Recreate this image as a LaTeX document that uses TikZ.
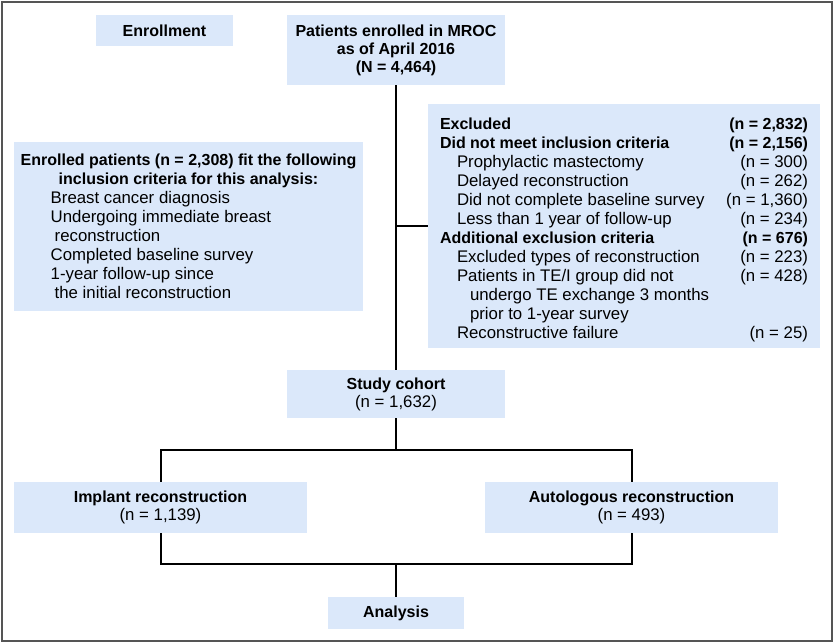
\documentclass[tikz,border=0pt]{standalone}
\usepackage{fontspec}
\setmainfont{Liberation Sans}
\usepackage{tikz}
\usetikzlibrary{calc}

\definecolor{boxblue}{RGB}{219,232,250}
\definecolor{framegray}{RGB}{85,85,85}
\newcommand{\hd}{\fontsize{12}{14.25}\selectfont\bfseries}
\tikzset{
  box/.style={fill=boxblue, inner sep=0pt, font=\fontsize{12.6}{13.5}\selectfont},
  listbox/.style={box, font=\fontsize{12.6}{14.25}\selectfont},
  link/.style={line width=1.5pt, black},
}

\begin{document}
\begin{tikzpicture}[x=0.75pt,y=0.75pt,yscale=-1,xscale=1]
  \useasboundingbox (0,0) rectangle (834,643) ;
  \draw  [framegray, line width=1.2pt] (2,2) rectangle (832,641) ;

  \node  [box, minimum width=102.75pt, minimum height=23.25pt] (enr) at (164.5,30.5) {\hd Enrollment} ;
  \node  [box, align=center, minimum width=163.5pt, minimum height=52.5pt] (pat) at (396,50) {\hd Patients enrolled in MROC\\ \hd as of April 2016\\ \hd (N = 4,464)} ;

  \node  [listbox, minimum width=261.75pt, minimum height=126.75pt] (inc) at (188.5,226.5) {%
    \begin{tabular}{@{\hspace{22.5pt}}l@{}}
      \multicolumn{1}{@{}c@{}}{\rule{0pt}{13pt}\hd Enrolled patients (n = 2,308) fit the following}\\
      \multicolumn{1}{@{}c@{}}{\hd inclusion criteria for this analysis:}\\
      Breast cancer diagnosis\\
      Undergoing immediate breast\\
      \hspace{3pt}reconstruction\\
      Completed baseline survey\\
      1-year follow-up since\\
      \hspace{3pt}the initial reconstruction
    \end{tabular}} ;

  \node  [listbox, minimum width=294pt, minimum height=183pt] (exc) at (624,226) {%
    \begin{tabular*}{276pt}{@{}l@{\extracolsep{\fill}}r@{}}
      \rule{0pt}{16pt}\hd Excluded & \hd (n = 2,832)\\
      \hd Did not meet inclusion criteria & \hd (n = 2,156)\\
      \hspace{12.75pt}Prophylactic mastectomy & (n = 300)\\
      \hspace{12.75pt}Delayed reconstruction & (n = 262)\\
      \hspace{12.75pt}Did not complete baseline survey & (n = 1,360)\\
      \hspace{12.75pt}Less than 1 year of follow-up & (n = 234)\\
      \hd Additional exclusion criteria & \hd (n = 676)\\
      \hspace{12.75pt}Excluded types of reconstruction & (n = 223)\\
      \hspace{12.75pt}Patients in TE/I group did not & (n = 428)\\
      \hspace{22.5pt}undergo TE exchange 3 months & \\
      \hspace{22.5pt}prior to 1-year survey & \\
      \hspace{12.75pt}Reconstructive failure & (n = 25)
    \end{tabular*}} ;

  \node  [box, align=center, minimum width=163.5pt, minimum height=36pt] (coh) at (396,394) {\hd Study cohort\\ (n = 1,632)} ;
  \node  [box, align=center, minimum width=219.75pt, minimum height=38.25pt] (imp) at (160.5,507.5) {\hd Implant reconstruction\\ (n = 1,139)} ;
  \node  [box, align=center, minimum width=219.75pt, minimum height=38.25pt] (aut) at (631.5,507.5) {\hd Autologous reconstruction\\ (n = 493)} ;
  \node  [box, minimum width=102pt, minimum height=24pt] (ana) at (396,613) {\hd Analysis} ;

  \coordinate (split) at (396,450) ;
  \coordinate (merge) at (396,564) ;

  \draw  [link] (pat.south) -- (coh.north) ;
  \draw  [link] (pat.south |- exc.west) -- (exc.west) ;
  \draw  [link] (coh.south) -- (split) ;
  \draw  [link] (imp.north) |- (split) -| (aut.north) ;
  \draw  [link] (imp.south) |- (merge) -| (aut.south) ;
  \draw  [link] (merge) -- (ana.north) ;
\end{tikzpicture}
\end{document}
